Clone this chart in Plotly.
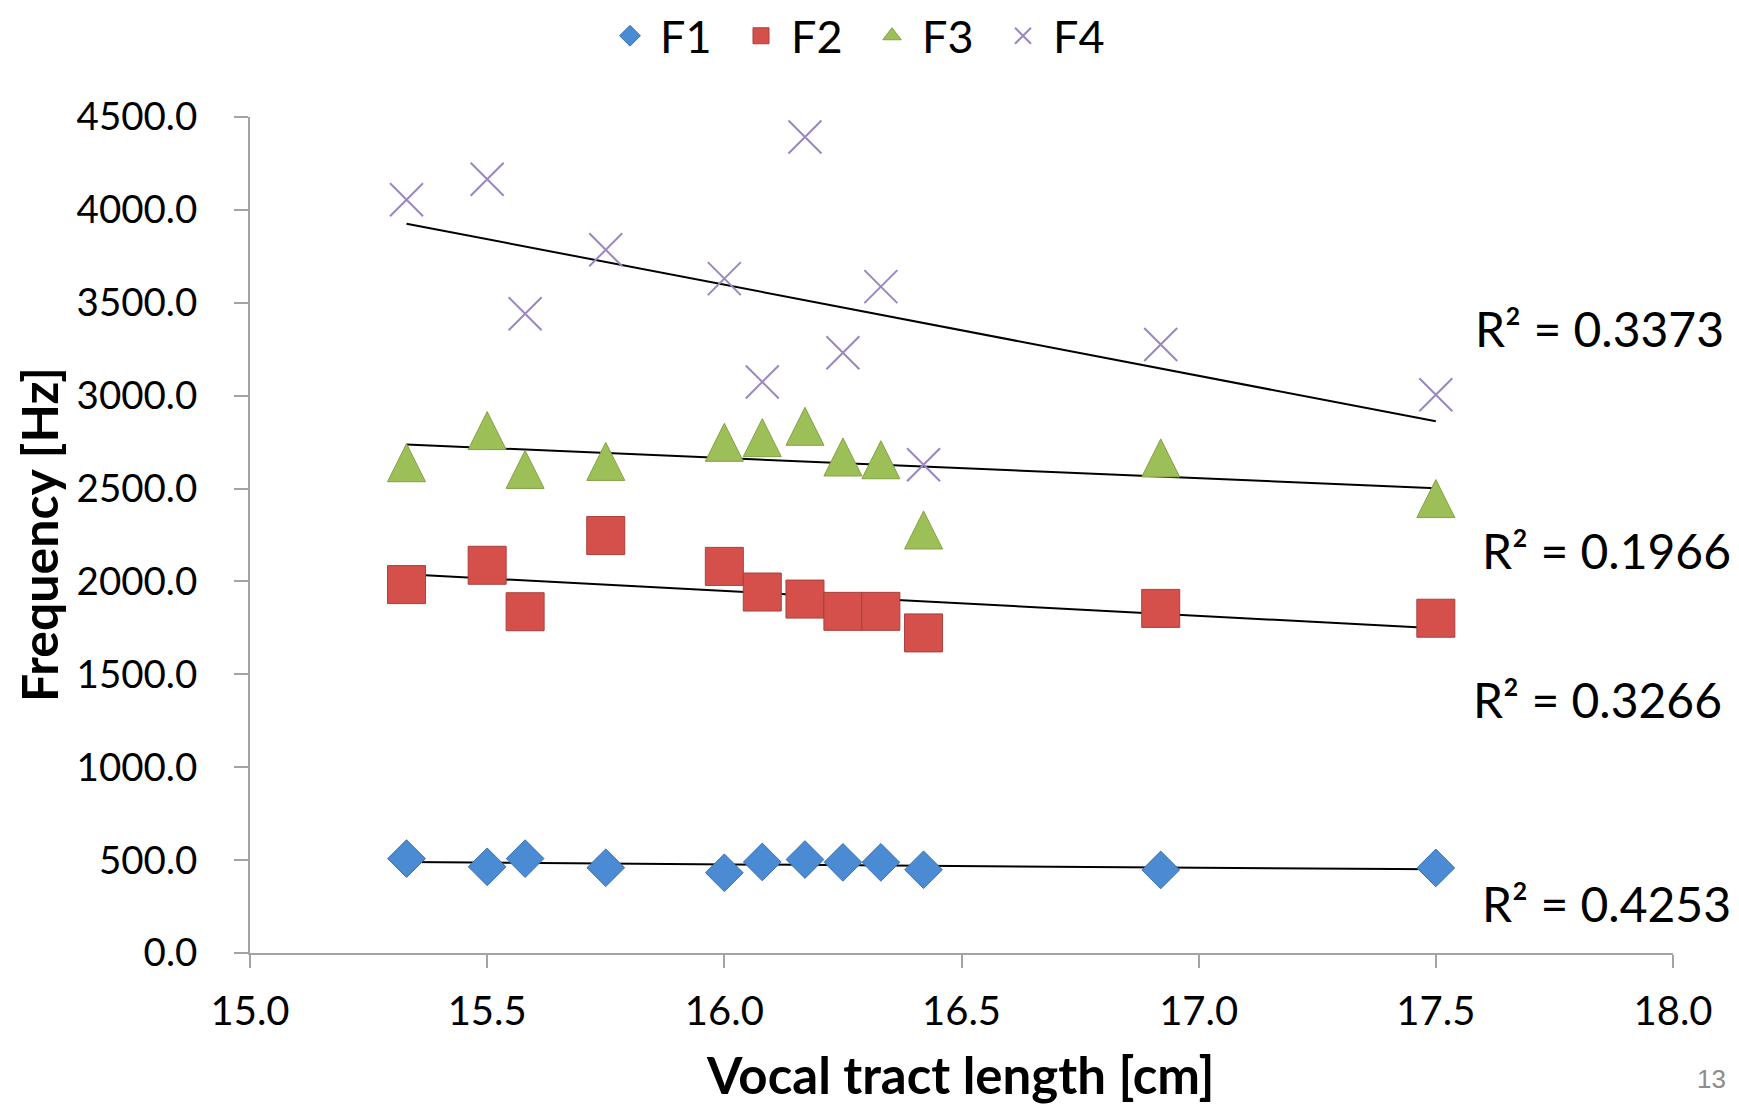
import numpy as np
import plotly.graph_objects as go

# ---- data ----
vt_length = [15.33, 15.50, 15.58, 15.75, 16.00, 16.08, 16.17, 16.25, 16.33, 16.42, 16.92, 17.50]
f1 = [508, 464, 508, 459, 432, 490, 503, 488, 488, 448, 447, 458]
f2 = [1983, 2087, 1837, 2247, 2081, 1943, 1905, 1839, 1839, 1723, 1855, 1802]
f3 = [2639, 2812, 2603, 2646, 2749, 2774, 2835, 2670, 2655, 2277, 2665, 2446]
f4 = [4055, 4165, 3441, 3785, 3630, 3074, 4392, 3231, 3587, 2628, 3275, 3005]
series_names = ["F1", "F2", "F3", "F4"]
r2_labels = ["R² = 0.4253", "R² = 0.3266", "R² = 0.1966", "R² = 0.3373"]
r2_label_x = [17.86, 17.84, 17.86, 17.845]
r2_label_y = [269, 1364, 2168, 3363]
x_ticks = [15.0, 15.5, 16.0, 16.5, 17.0, 17.5, 18.0]
y_ticks = [0, 500, 1000, 1500, 2000, 2500, 3000, 3500, 4000, 4500]
x_title = "Vocal tract length [cm]"
y_title = "Frequency [Hz]"
page_number = "13"

FONT = "Lato, 'Open Sans', sans-serif"
AXIS_GREY = "#A3A3A3"

colors = ["#4A8BD3", "#D6504B", "#9DBF57", "#9B86C3"]
edges = ["#3A72B2", "#A8403C", "#82A243", "#9B86C3"]
plot_markers = [
    dict(symbol="diamond", size=29),
    dict(symbol="square", size=38),
    dict(symbol="arrow-down", angle=180, standoff=19, size=38),
    dict(symbol="x-thin-open", size=33),
]
legend_symbols = ["diamond", "square", "triangle-up", "x-thin-open"]

fig = go.Figure()
all_series = [f1, f2, f3, f4]

# trend lines (least-squares, as in the source chart)
xmin, xmax = min(vt_length), max(vt_length)
for ys in all_series:
    slope, intercept = np.polyfit(vt_length, ys, 1)
    fig.add_trace(go.Scatter(
        x=[xmin, xmax], y=[slope * xmin + intercept, slope * xmax + intercept],
        mode="lines", line=dict(color="black", width=2), showlegend=False, hoverinfo="skip"))

for i, (name, ys) in enumerate(zip(series_names, all_series)):
    lw = 2 if i == 3 else 1
    fig.add_trace(go.Scatter(
        x=vt_length, y=ys, mode="markers", name=name, showlegend=False,
        marker=dict(**plot_markers[i], color=colors[i], line=dict(color=edges[i], width=lw)),
    ))

# legend entries
for i, name in enumerate(series_names):
    lw = 2 if i == 3 else 1
    fig.add_trace(go.Scatter(
        x=[None], y=[None], mode="markers", name=name, showlegend=True,
        marker=dict(symbol=legend_symbols[i], size=16, color=colors[i],
                    line=dict(color=edges[i], width=lw)),
    ))

for txt, ax_, ay_ in zip(r2_labels, r2_label_x, r2_label_y):
    fig.add_annotation(x=ax_, y=ay_, xref="x", yref="y", text=txt, showarrow=False,
                       font=dict(family=FONT, size=48, color="black"),
                       xanchor="center", yanchor="middle")

W, H = 1739, 1108
ML, MR, MT, MB = 250, 66, 117, 155
pw, ph = W - ML - MR, H - MT - MB


def px_x(p):
    return (p - ML) / pw


def px_y(p):
    return (H - MB - p) / ph


# axis titles
fig.add_annotation(x=px_x(39), y=px_y(535), xref="paper", yref="paper", text=f"<b>{y_title}</b>",
                   textangle=-90, showarrow=False, xanchor="center", yanchor="middle",
                   font=dict(family=FONT, size=50, color="black"))
fig.add_annotation(x=px_x(960), y=px_y(1107), xref="paper", yref="paper", text=f"<b>{x_title}</b>",
                   showarrow=False, xanchor="center", yanchor="bottom",
                   font=dict(family=FONT, size=51, color="black"))

fig.add_annotation(x=px_x(1711), y=px_y(1079), xref="paper", yref="paper",
                   text=page_number, showarrow=False,
                   font=dict(family="Liberation Sans, Arial, sans-serif", size=26, color="#8C8C8C"),
                   xanchor="center", yanchor="middle")

fig.update_layout(
    width=W, height=H,
    margin=dict(l=ML, r=MR, t=MT, b=MB, autoexpand=False),
    paper_bgcolor="white", plot_bgcolor="white",
    font=dict(family=FONT, color="black"),
    showlegend=True,
    legend=dict(orientation="h", x=px_x(600), xanchor="left", y=px_y(36), yanchor="middle",
                font=dict(family=FONT, size=45, color="black"),
                itemwidth=50, entrywidth=66, bgcolor="rgba(0,0,0,0)", traceorder="normal"),
    xaxis=dict(range=[15, 18], tickvals=x_ticks, ticktext=[f"{v:.1f}" for v in x_ticks],
               showgrid=False, zeroline=False, showline=True, linecolor=AXIS_GREY, linewidth=2,
               ticks="outside", ticklen=13, tickwidth=2, tickcolor=AXIS_GREY,
               tickfont=dict(family=FONT, size=40, color="black"), ticklabelstandoff=9),
    yaxis=dict(range=[0, 4500], tickvals=y_ticks, ticktext=[f"{v:.1f}" for v in y_ticks],
               showgrid=False, zeroline=False, showline=True, linecolor=AXIS_GREY, linewidth=2,
               ticks="outside", ticklen=14, tickwidth=2, tickcolor=AXIS_GREY,
               tickfont=dict(family=FONT, size=38.5, color="black"), ticklabelstandoff=29),
)

fig.write_html("out.html")
